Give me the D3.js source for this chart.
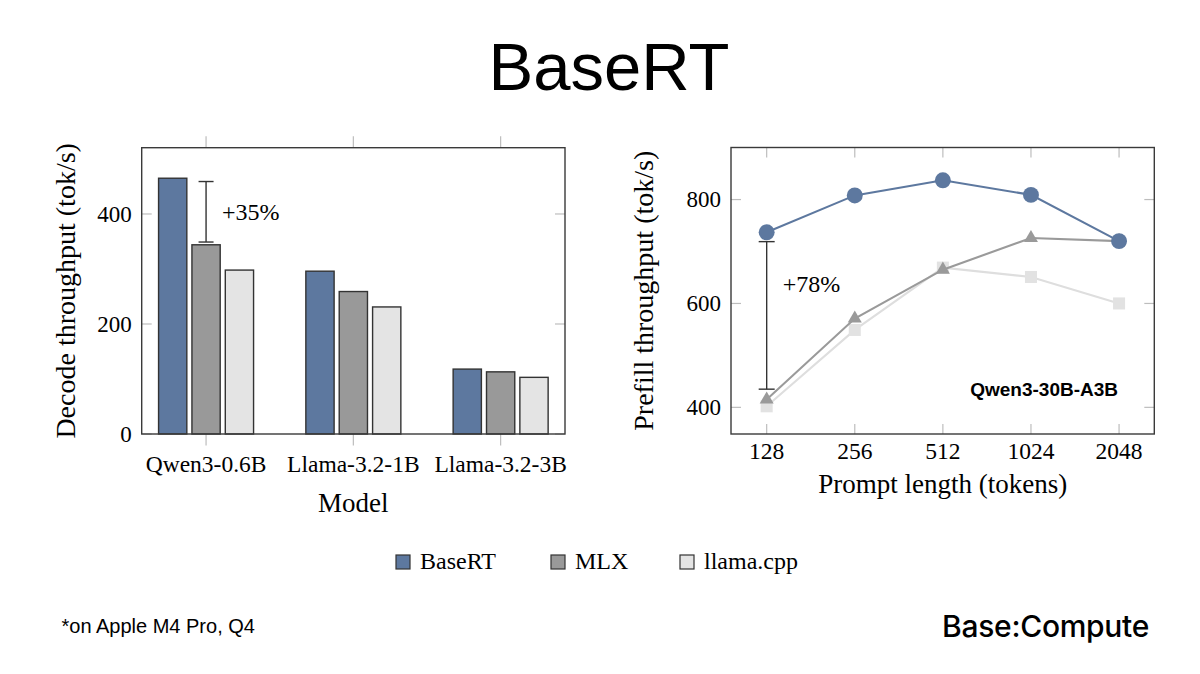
<!DOCTYPE html>
<html>
<head>
<meta charset="utf-8">
<script src="https://cdn.jsdelivr.net/npm/d3@7"></script>
<style>
  html, body { margin: 0; padding: 0; background: #fff; }
  svg { display: block; }
</style>
</head>
<body>
<div id="drawArea"></div>
<script>
// data
var categories = ["Qwen3-0.6B", "Llama-3.2-1B", "Llama-3.2-3B"];
var frameworks = ["BaseRT", "MLX", "llama.cpp"];
var decodeBaseRT = [465, 296, 118];
var decodeMLX = [344, 259, 113];
var decodeLlama = [298, 231, 103];
var decodeTicks = [0, 200, 400];
var decodeGap = [349, 459];
var decodeGapLabel = "+35%";

var promptLengths = [128, 256, 512, 1024, 2048];
var prefillBaseRT = [737, 808, 837, 809, 720];
var prefillMLX = [415, 571, 665, 726, 720];
var prefillLlama = [402, 549, 669, 651, 600];
var prefillTicks = [400, 600, 800];
var prefillGap = [435, 719];
var prefillGapLabel = "+78%";

var colors = {"BaseRT": "#5d789f", "MLX": "#999999", "llama.cpp": "#e4e4e4"};
var lineColors = {"BaseRT": "#5d789f", "MLX": "#9a9a9a", "llama.cpp": "#dedede"};

var serif = "'Liberation Serif', 'Times New Roman', serif";
var sans = "'Liberation Sans', Arial, Helvetica, sans-serif";

var svg = d3.select("#drawArea").append("svg")
  .attr("width", 1200).attr("height", 674);
svg.append("rect").attr("width", 1200).attr("height", 674).attr("fill", "#fff");

// title
svg.append("text").attr("x", 609).attr("y", 90)
  .attr("text-anchor", "middle").attr("font-family", sans).attr("font-size", 67)
  .attr("fill", "#000").text("BaseRT");

var tickGray = "#bdbdbd";
var frameCol = "#3a3a3a";

// ---------- left chart: decode bars ----------
var L = {left: 141.7, right: 565, top: 147.7, bottom: 434};
var gL = svg.append("g");

var x0 = d3.scalePoint().domain(categories).range([L.left, L.right]).padding(0.437);
var x1 = d3.scaleBand().domain(frameworks).range([-47.5, 47.5]).paddingInner(0.153);
var yL = d3.scaleLinear().domain([0, 520.5]).range([L.bottom, L.top]);

// gray ticks (x outside, y inside)
categories.forEach(function(c){
  gL.append("line").attr("x1", x0(c)).attr("x2", x0(c)).attr("y1", L.top - 11.5).attr("y2", L.top)
    .attr("stroke", tickGray).attr("stroke-width", 1.2);
  gL.append("line").attr("x1", x0(c)).attr("x2", x0(c)).attr("y1", L.bottom).attr("y2", L.bottom + 11.5)
    .attr("stroke", tickGray).attr("stroke-width", 1.2);
});
decodeTicks.forEach(function(t){
  gL.append("line").attr("x1", L.left).attr("x2", L.left + 10).attr("y1", yL(t)).attr("y2", yL(t))
    .attr("stroke", tickGray).attr("stroke-width", 1.2);
  gL.append("line").attr("x1", L.right - 10).attr("x2", L.right).attr("y1", yL(t)).attr("y2", yL(t))
    .attr("stroke", tickGray).attr("stroke-width", 1.2);
});

var decodeSeries = {"BaseRT": decodeBaseRT, "MLX": decodeMLX, "llama.cpp": decodeLlama};
var barData = [];
categories.forEach(function(c, i){
  frameworks.forEach(function(f){
    barData.push({cat: c, fw: f, v: decodeSeries[f][i]});
  });
});
gL.selectAll("rect.bar").data(barData).enter().append("rect")
  .attr("class", "bar")
  .attr("x", function(d){ return x0(d.cat) + x1(d.fw); })
  .attr("y", function(d){ return yL(d.v); })
  .attr("width", x1.bandwidth())
  .attr("height", function(d){ return yL(0) - yL(d.v); })
  .attr("fill", function(d){ return colors[d.fw]; })
  .attr("stroke", "#333").attr("stroke-width", 1.4);

// frame
gL.append("rect").attr("x", L.left).attr("y", L.top).attr("width", L.right - L.left).attr("height", L.bottom - L.top)
  .attr("fill", "none").attr("stroke", frameCol).attr("stroke-width", 1.4);

// tick labels
gL.selectAll("text.yt").data(decodeTicks).enter().append("text")
  .attr("x", L.left - 10).attr("y", function(d){ return yL(d); }).attr("dy", "0.34em")
  .attr("text-anchor", "end").attr("font-family", serif).attr("font-size", 23).text(function(d){ return d; });
gL.selectAll("text.xt").data(categories).enter().append("text")
  .attr("x", function(d){ return x0(d); }).attr("y", 472)
  .attr("text-anchor", "middle").attr("font-family", serif).attr("font-size", 23.5).text(function(d){ return d; });
gL.append("text").attr("x", (L.left + L.right) / 2).attr("y", 512)
  .attr("text-anchor", "middle").attr("font-family", serif).attr("font-size", 27).text("Model");
gL.append("text").attr("transform", "translate(" + (L.left - 67) + "," + ((L.top + L.bottom) / 2) + ") rotate(-90)")
  .attr("text-anchor", "middle").attr("font-family", serif).attr("font-size", 28).text("Decode throughput (tok/s)");

// +35% marker
var gx = x0(categories[0]) + x1("MLX") + x1.bandwidth() / 2;
gL.append("line").attr("x1", gx).attr("x2", gx).attr("y1", yL(decodeGap[0])).attr("y2", yL(decodeGap[1]))
  .attr("stroke", "#333").attr("stroke-width", 1.4);
decodeGap.forEach(function(v){
  gL.append("line").attr("x1", gx - 7.5).attr("x2", gx + 7.5).attr("y1", yL(v)).attr("y2", yL(v))
    .attr("stroke", "#333").attr("stroke-width", 1.4);
});
gL.append("text").attr("x", gx + 16).attr("y", 220).attr("font-family", serif).attr("font-size", 24)
  .text(decodeGapLabel);

// ---------- right chart: prefill lines ----------
var R = {left: 731, right: 1154.3, top: 147.5, bottom: 434};
var gR = svg.append("g");
var xR = d3.scaleLog().base(2).domain([128 * Math.pow(2, -0.405), 2048 * Math.pow(2, 0.4)]).range([R.left, R.right]);
var yR = d3.scaleLinear().domain([348.7, 900.2]).range([R.bottom, R.top]);

promptLengths.forEach(function(p){
  gR.append("line").attr("x1", xR(p)).attr("x2", xR(p)).attr("y1", R.top).attr("y2", R.top + 10)
    .attr("stroke", tickGray).attr("stroke-width", 1.2);
  gR.append("line").attr("x1", xR(p)).attr("x2", xR(p)).attr("y1", R.bottom - 10).attr("y2", R.bottom)
    .attr("stroke", tickGray).attr("stroke-width", 1.2);
});
prefillTicks.forEach(function(t){
  gR.append("line").attr("x1", R.left).attr("x2", R.left + 10).attr("y1", yR(t)).attr("y2", yR(t))
    .attr("stroke", tickGray).attr("stroke-width", 1.2);
  gR.append("line").attr("x1", R.right - 10).attr("x2", R.right).attr("y1", yR(t)).attr("y2", yR(t))
    .attr("stroke", tickGray).attr("stroke-width", 1.2);
});

var prefillSeries = {"BaseRT": prefillBaseRT, "MLX": prefillMLX, "llama.cpp": prefillLlama};
var line = d3.line().x(function(d){ return xR(d.p); }).y(function(d){ return yR(d.v); });
["llama.cpp", "MLX", "BaseRT"].forEach(function(f){
  var pts = promptLengths.map(function(p, i){ return {p: p, v: prefillSeries[f][i]}; });
  gR.append("path").datum(pts).attr("d", line).attr("fill", "none")
    .attr("stroke", lineColors[f]).attr("stroke-width", 2.1);
  var sym = f === "BaseRT" ? d3.symbolCircle : (f === "MLX" ? d3.symbolTriangle : d3.symbolSquare);
  var size = f === "BaseRT" ? 200 : (f === "MLX" ? 85 : 145);
  gR.selectAll("path.m" + f.replace(".", "")).data(pts).enter().append("path")
    .attr("transform", function(d){ return "translate(" + xR(d.p) + "," + yR(d.v) + ")"; })
    .attr("d", d3.symbol().type(sym).size(size))
    .attr("fill", f === "llama.cpp" ? "#e2e2e2" : lineColors[f]);
});

gR.append("rect").attr("x", R.left).attr("y", R.top).attr("width", R.right - R.left).attr("height", R.bottom - R.top)
  .attr("fill", "none").attr("stroke", frameCol).attr("stroke-width", 1.4);

gR.selectAll("text.yt").data(prefillTicks).enter().append("text")
  .attr("x", R.left - 10).attr("y", function(d){ return yR(d); }).attr("dy", "0.34em")
  .attr("text-anchor", "end").attr("font-family", serif).attr("font-size", 23).text(function(d){ return d; });
gR.selectAll("text.xt").data(promptLengths).enter().append("text")
  .attr("x", function(d){ return xR(d); }).attr("y", 458.5)
  .attr("text-anchor", "middle").attr("font-family", serif).attr("font-size", 23.5).text(function(d){ return d; });
gR.append("text").attr("x", (R.left + R.right) / 2).attr("y", 493)
  .attr("text-anchor", "middle").attr("font-family", serif).attr("font-size", 27).text("Prompt length (tokens)");
gR.append("text").attr("transform", "translate(" + (R.left - 78) + "," + ((R.top + R.bottom) / 2) + ") rotate(-90)")
  .attr("text-anchor", "middle").attr("font-family", serif).attr("font-size", 28).text("Prefill throughput (tok/s)");

// +78% marker
var px = xR(promptLengths[0]);
gR.append("line").attr("x1", px).attr("x2", px).attr("y1", yR(prefillGap[0])).attr("y2", yR(prefillGap[1]))
  .attr("stroke", "#333").attr("stroke-width", 1.4);
prefillGap.forEach(function(v){
  gR.append("line").attr("x1", px - 8).attr("x2", px + 8).attr("y1", yR(v)).attr("y2", yR(v))
    .attr("stroke", "#333").attr("stroke-width", 1.4);
});
gR.append("text").attr("x", px + 16).attr("y", 292).attr("font-family", serif).attr("font-size", 24)
  .text(prefillGapLabel);

gR.append("text").attr("x", xR(2048) - 1).attr("y", 396).attr("text-anchor", "end")
  .attr("font-family", sans).attr("font-weight", "bold").attr("font-size", 19).text("Qwen3-30B-A3B");

// ---------- legend ----------
var legendX = [396, 551, 680];
frameworks.forEach(function(f, i){
  svg.append("rect").attr("x", legendX[i]).attr("y", 555).attr("width", 14).attr("height", 14)
    .attr("fill", colors[f]).attr("stroke", "#333").attr("stroke-width", 1.2);
  svg.append("text").attr("x", legendX[i] + 24).attr("y", 568.5).attr("font-family", serif)
    .attr("font-size", 24).text(f);
});

// ---------- footer ----------
svg.append("text").attr("x", 61.5).attr("y", 633).attr("font-family", sans).attr("font-size", 20)
  .text("*on Apple M4 Pro, Q4");
svg.append("text").attr("x", 1149).attr("y", 637).attr("text-anchor", "end")
  .attr("font-family", "Inter, 'Noto Sans', sans-serif").attr("font-weight", 500).attr("font-size", 30)
  .attr("letter-spacing", -0.3).text("Base:Compute");
</script>
</body>
</html>
